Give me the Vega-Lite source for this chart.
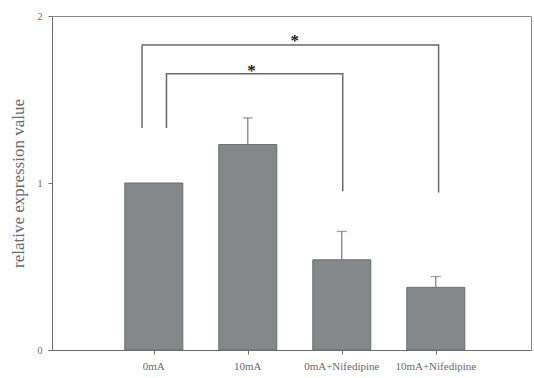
{
  "$schema": "https://vega.github.io/schema/vega-lite/v6.json",
  "autosize": {"type": "none"},
  "padding": {"left": 52, "top": 16, "right": 3, "bottom": 28},
  "width": 479,
  "height": 334,
  "background": "white",
  "config": {
    "font": "Liberation Serif",
    "view": {"stroke": "#8a8a8a", "strokeWidth": 1},
    "axis": {
      "domainColor": "#6f6f6f",
      "tickColor": "#6f6f6f",
      "labelColor": "#6a6a6a",
      "titleColor": "#6a6a6a",
      "labelFont": "Liberation Serif",
      "titleFont": "Liberation Serif",
      "grid": false
    }
  },
  "datasets": {
    "bars": [
      {"group": "0mA", "pos": 1, "value": 1.0, "hi": null},
      {"group": "10mA", "pos": 2, "value": 1.23, "hi": 1.39},
      {"group": "0mA+Nifedipine", "pos": 3, "value": 0.54, "hi": 0.71},
      {"group": "10mA+Nifedipine", "pos": 4, "value": 0.375, "hi": 0.44}
    ],
    "brackets": [
      {"bracket": "outer", "step": 1, "x": 0.875, "y": 1.33},
      {"bracket": "outer", "step": 2, "x": 0.875, "y": 1.827},
      {"bracket": "outer", "step": 3, "x": 4.03, "y": 1.827},
      {"bracket": "outer", "step": 4, "x": 4.03, "y": 0.943},
      {"bracket": "inner", "step": 1, "x": 1.135, "y": 1.33},
      {"bracket": "inner", "step": 2, "x": 1.135, "y": 1.654},
      {"bracket": "inner", "step": 3, "x": 3.01, "y": 1.654},
      {"bracket": "inner", "step": 4, "x": 3.01, "y": 0.95}
    ],
    "stars": [
      {"x": 2.5, "y": 1.87, "label": "*"},
      {"x": 2.04, "y": 1.69, "label": "*"}
    ]
  },
  "layer": [
    {
      "data": {"name": "bars"},
      "mark": {"type": "bar", "orient": "vertical", "size": 58, "fill": "#858888", "stroke": "#6a6d6d", "strokeWidth": 1},
      "encoding": {
        "x": {
          "field": "pos", "type": "quantitative",
          "scale": {"domain": [-0.03, 4.96], "nice": false, "zero": false},
          "axis": {
            "values": [1, 2, 3, 4],
            "labelExpr": "''",
            "tickSize": 4,
            "title": null
          }
        },
        "y": {
          "field": "value", "type": "quantitative",
          "scale": {"domain": [0, 2], "nice": false},
          "axis": {
            "values": [0, 1, 2],
            "format": ".0f",
            "labelOverlap": false,
            "tickSize": 4,
            "labelFontSize": 10,
            "labelPadding": 6,
            "title": "relative expression value",
            "titleFontSize": 17,
            "titleFontWeight": "normal",
            "titlePadding": 10
          }
        },
        "y2": {"datum": 0}
      }
    },
    {
      "data": {"name": "bars"},
      "mark": {"type": "text", "baseline": "top", "dy": 11, "fontSize": 11, "color": "#6a6a6a"},
      "encoding": {
        "x": {"field": "pos", "type": "quantitative"},
        "y": {"datum": 0},
        "text": {"field": "group"}
      }
    },
    {
      "data": {"name": "bars"},
      "transform": [{"filter": "datum.hi != null"}],
      "mark": {"type": "rule", "color": "#7a7a7a", "strokeWidth": 1.2},
      "encoding": {
        "x": {"field": "pos", "type": "quantitative"},
        "y": {"field": "value", "type": "quantitative"},
        "y2": {"field": "hi"}
      }
    },
    {
      "data": {"name": "bars"},
      "transform": [{"filter": "datum.hi != null"}],
      "mark": {"type": "tick", "orient": "horizontal", "color": "#7a7a7a", "size": 10, "thickness": 1.3},
      "encoding": {
        "x": {"field": "pos", "type": "quantitative"},
        "y": {"field": "hi", "type": "quantitative"}
      }
    },
    {
      "data": {"name": "brackets"},
      "mark": {"type": "line", "color": "#6a6a6a", "strokeWidth": 1.5},
      "encoding": {
        "x": {"field": "x", "type": "quantitative"},
        "y": {"field": "y", "type": "quantitative"},
        "detail": {"field": "bracket"},
        "order": {"field": "step"}
      }
    },
    {
      "data": {"name": "stars"},
      "mark": {"type": "text", "fontSize": 17, "fontWeight": "bold", "color": "#222222", "baseline": "middle", "dy": 3},
      "encoding": {
        "x": {"field": "x", "type": "quantitative"},
        "y": {"field": "y", "type": "quantitative"},
        "text": {"field": "label"}
      }
    }
  ]
}
